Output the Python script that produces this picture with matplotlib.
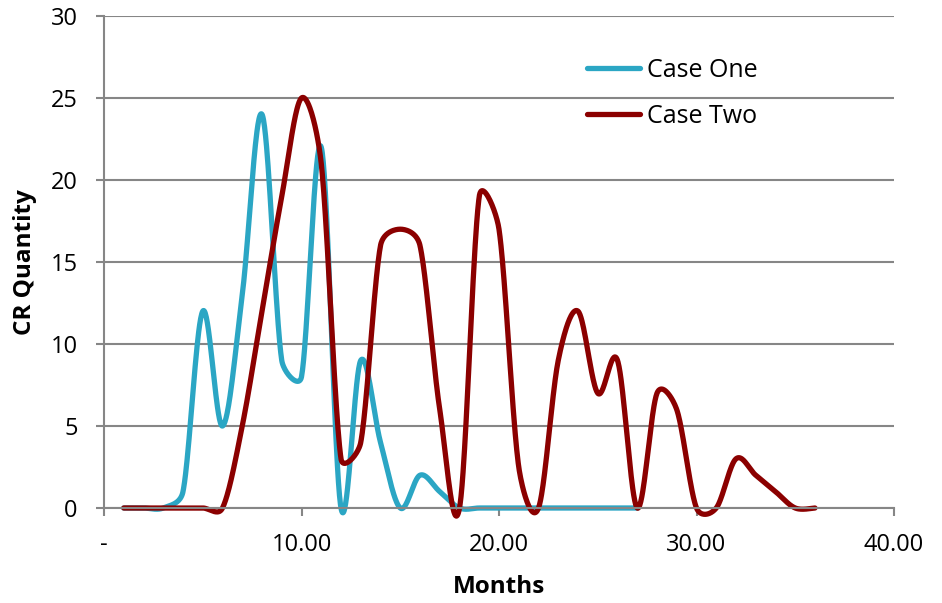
import numpy as np
import matplotlib.pyplot as plt

plt.rcParams['font.family'] = ['Open Sans', 'DejaVu Sans']

months_one = list(range(1, 28))
case_one = [0, 0, 0, 1, 12, 5, 13, 24, 9, 8, 22, 0, 9, 4, 0, 2, 1, 0,
            0, 0, 0, 0, 0, 0, 0, 0, 0]

months_two = list(range(1, 37))
case_two = [0, 0, 0, 0, 0, 0, 5, 12, 19, 25, 21, 3, 4, 16, 17, 16, 6, 0,
            19, 17, 2.5, 0, 9, 12, 7, 9, 0, 7, 6, 0, 0, 3, 2, 1, 0, 0]

x_ticks = [0, 10, 20, 30, 40]
x_tick_labels = ['-', '10.00', '20.00', '30.00', '40.00']
y_ticks = [0, 5, 10, 15, 20, 25, 30]

# screen scale (px per data unit) used to size the bezier handles
PX_X = 789 / 40
PX_Y = 492 / 30


def smooth(xs, ys, steps=40):
    # spreadsheet-style smoothing: bezier handles of (next - prev)/6,
    # shortened to half the segment when the neighbours are far away
    p = np.column_stack([xs, ys]).astype(float)
    n = len(p)
    scale = np.array([PX_X, PX_Y])

    def dist(a, b):
        return np.hypot(*((a - b) * scale))

    out = [p[0]]
    t = np.linspace(0, 1, steps)[1:, None]
    for i in range(n - 1):
        p0 = p[i - 1] if i > 0 else p[i]
        p1, p2 = p[i], p[i + 1]
        p3 = p[i + 2] if i + 2 < n else p[i + 1]
        d12 = dist(p1, p2)
        d02 = dist(p0, p2)
        d13 = dist(p1, p3)
        f1 = min(1 / 6, d12 / 2 / d02) if d02 > 0 else 0
        f2 = min(1 / 6, d12 / 2 / d13) if d13 > 0 else 0
        c1 = p1 + (p2 - p0) * f1
        c2 = p2 - (p3 - p1) * f2
        seg = ((1 - t) ** 3 * p1 + 3 * (1 - t) ** 2 * t * c1
               + 3 * (1 - t) * t ** 2 * c2 + t ** 3 * p2)
        out.extend(seg)
    out = np.array(out)
    return out[:, 0], out[:, 1]


fig = plt.figure(figsize=(9.42, 6.03), dpi=100)
ax = fig.add_axes([104 / 942, 1 - 508 / 603, 790 / 942, 492 / 603])

grid_col = '#868686'
ax.set_xlim(0, 40)
ax.set_ylim(0, 30)
ax.set_yticks(y_ticks)
ax.set_xticks(x_ticks)
ax.set_xticklabels(x_tick_labels)
ax.grid(axis='y', color=grid_col, linewidth=1.5)
ax.set_axisbelow(True)

for side in ['top', 'right']:
    ax.spines[side].set_visible(False)
for side in ['left', 'bottom']:
    ax.spines[side].set_color(grid_col)
    ax.spines[side].set_linewidth(1.5)

ax.tick_params(axis='both', colors=grid_col, width=1.5, length=6,
               labelcolor='black', labelsize=17)
ax.tick_params(axis='x', pad=12)
ax.tick_params(axis='y', pad=13)

sx, sy = smooth(months_one, case_one)
ax.plot(sx, sy, color='#2ba6c4', linewidth=3.8, label='Case One',
        solid_capstyle='round', clip_on=False)
sx, sy = smooth(months_two, case_two)
ax.plot(sx, sy, color='#8b0000', linewidth=3.8, label='Case Two',
        solid_capstyle='round', clip_on=False)

ax.set_xlabel('Months', fontsize=17.5, fontweight='bold', labelpad=13)
ax.set_ylabel('CR Quantity', fontsize=17.5, fontweight='bold', labelpad=10)

fig.legend(loc='center left', bbox_to_anchor=(587 / 942, 1 - 93.5 / 603),
           frameon=False, fontsize=18, handlelength=2.1, handletextpad=0.3,
           borderpad=0, borderaxespad=0, labelspacing=0.85)

fig.savefig('out.png', dpi=100)
